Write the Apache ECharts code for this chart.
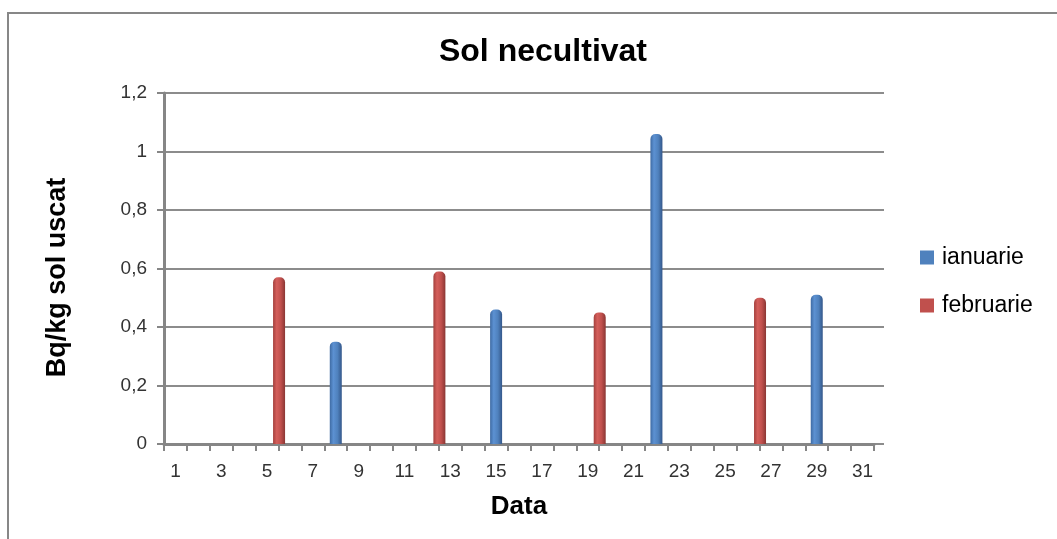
<!DOCTYPE html>
<html>
<head>
<meta charset="utf-8">
<script src="https://cdn.jsdelivr.net/npm/echarts@6/dist/echarts.min.js"></script>
<style>
html,body{margin:0;padding:0;background:#fff;}
#chart{width:1057px;height:539px;}
</style>
</head>
<body>
<div id="chart"></div>
<script>
const days = ['1','2','3','4','5','6','7','8','9','10','11','12','13','14','15','16','17','18','19','20','21','22','23','24','25','26','27','28','29','30','31'];
const ianuarie = [null,null,null,null,null,null,null,0.35,null,null,null,null,null,null,0.46,null,null,null,null,null,null,1.06,null,null,null,null,null,null,0.51,null,null];
const februarie = [null,null,null,null,0.57,null,null,null,null,null,null,0.59,null,null,null,null,null,null,0.45,null,null,null,null,null,null,0.50,null,null,null,null,null];
const placeholder = days.map(() => null);
const yMin = 0, yMax = 1.2, yStep = 0.2;

const FONT = "'Liberation Sans', Arial, sans-serif";
const gridColor = '#8C8C8C';

function grad(c0, c1, c2, c3) {
  return new echarts.graphic.LinearGradient(0, 0, 1, 0, [
    {offset: 0, color: c0},
    {offset: 0.3, color: c1},
    {offset: 0.65, color: c2},
    {offset: 1, color: c3}
  ]);
}

const chart = echarts.init(document.getElementById('chart'), null, {renderer: 'canvas'});
chart.setOption({
  backgroundColor: '#fff',
  animation: false,
  graphic: [{
    type: 'rect', z: -10,
    shape: {x: 8, y: 13, width: 1200, height: 700},
    style: {fill: '#fff', stroke: '#878787', lineWidth: 2}
  }],
  title: {
    text: 'Sol necultivat',
    left: 538, textAlign: 'center', top: 31,
    textStyle: {fontFamily: FONT, fontSize: 32, fontWeight: 'bold', color: '#000'}
  },
  legend: {
    orient: 'vertical',
    left: 915, top: 241,
    itemWidth: 14, itemHeight: 14, itemGap: 25,
    icon: 'rect',
    textStyle: {fontFamily: FONT, fontSize: 23, color: '#000', padding: [0, 0, 0, 3]},
    data: [
      {name: 'ianuarie', itemStyle: {color: '#4F81BD'}},
      {name: 'februarie', itemStyle: {color: '#C0504D'}}
    ]
  },
  grid: [
    {left: 164, right: 173, top: 93, bottom: 95},
    {left: 164, right: 183, top: 93, bottom: 95}
  ],
  xAxis: [
    {gridIndex: 0, type: 'category', data: days, show: false},
    {
      gridIndex: 1, type: 'category', data: days,
      name: 'Data', nameLocation: 'middle', nameGap: 50,
      nameTextStyle: {fontFamily: FONT, fontSize: 26, fontWeight: 'bold', color: '#000'},
      axisLine: {show: true, lineStyle: {color: '#868686', width: 3}},
      axisTick: {show: true, interval: 0, length: 7, lineStyle: {color: '#868686', width: 2}},
      axisLabel: {interval: 1, margin: 18, fontFamily: FONT, fontSize: 19, color: '#333'},
      splitLine: {show: false}
    }
  ],
  yAxis: [
    {
      gridIndex: 0, type: 'value', min: yMin, max: yMax, interval: yStep,
      name: 'Bq/kg sol uscat', nameLocation: 'middle', nameGap: 93, nameRotate: 90,
      nameTextStyle: {fontFamily: FONT, fontSize: 27, fontWeight: 'bold', color: '#000', padding: [0, 18, 0, 0]},
      axisLine: {show: true, lineStyle: {color: '#868686', width: 3}},
      axisTick: {show: true, length: 7, lineStyle: {color: '#868686', width: 2}},
      axisLabel: {margin: 17, fontFamily: FONT, fontSize: 19, color: '#333',
        formatter: v => String(Math.round(v * 10) / 10).replace('.', ',')},
      splitLine: {show: true, lineStyle: {color: gridColor, width: 2}}
    },
    {gridIndex: 1, type: 'value', min: yMin, max: yMax, interval: yStep, show: false, splitLine: {show: false}}
  ],
  series: [
    {name: '_spacer', type: 'bar', xAxisIndex: 1, yAxisIndex: 1, data: placeholder, barWidth: 12, barGap: '0%', silent: true},
    {name: 'ianuarie', type: 'bar', xAxisIndex: 1, yAxisIndex: 1, data: ianuarie, barWidth: 12, barGap: '0%',
      itemStyle: {color: grad('#3F6BA3', '#5C91D2', '#4F81BD', '#34578A'), borderRadius: [5, 5, 0, 0]}},
    {name: 'februarie', type: 'bar', xAxisIndex: 1, yAxisIndex: 1, data: februarie, barWidth: 12, barGap: '0%',
      itemStyle: {color: grad('#A4403D', '#D45F5B', '#C0504D', '#8A3633'), borderRadius: [5, 5, 0, 0]}}
  ]
});
</script>
</body>
</html>
